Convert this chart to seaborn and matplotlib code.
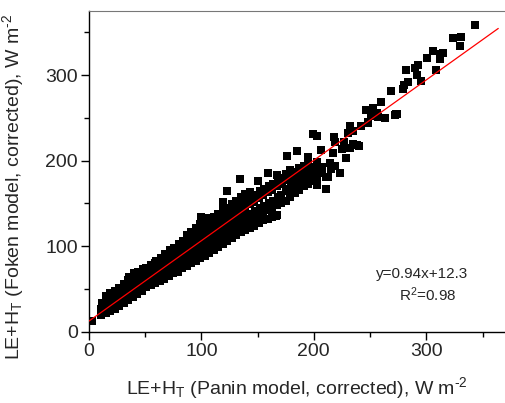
import numpy as np
import pandas as pd
import matplotlib
matplotlib.use('Agg')
import matplotlib.pyplot as plt
import seaborn as sns

# points: (Panin, Foken), W m-2
dense_low = [
    (2.5, 13),
    (11, 20), (11, 27), (12, 34),
    (15, 22), (15, 29), (16, 37), (15, 42),
    (19, 24), (19, 31), (20, 38), (19, 45),
    (23, 27), (23, 34), (24, 41), (23, 47),
    (27, 30), (27, 37), (28, 44), (27, 51),
    (31, 33), (31, 40), (32, 48), (31, 56),
    (35, 37), (35, 44), (36, 52), (35, 60), (36, 64),
    (39, 41), (39, 48), (40, 55), (39, 63), (40, 68),
    (43, 44), (43, 51), (44, 58), (43, 66), (44, 70),
    (47, 48), (47, 55), (48, 62), (47, 69), (48, 73),
    (51, 52), (51, 59), (52, 66), (51, 74),
    (55, 55), (55, 62), (56, 70), (55, 78),
    (59, 57), (59, 64), (60, 72), (59, 80), (60, 83),
]
dense_mid = [
    (63, 59), (63, 66), (64, 74), (63, 82), (64, 86),
    (67, 62), (67, 70), (68, 78), (67, 86), (68, 91),
    (71, 65), (71, 73), (72, 81), (71, 89), (72, 95),
    (75, 68), (75, 76), (76, 84), (75, 92), (76, 98),
    (79, 70), (79, 78), (80, 86), (79, 95), (80, 102),
    (83, 74), (83, 82), (84, 90), (83, 98), (84, 106),
    (87, 77), (87, 85), (88, 93), (87, 101), (88, 109), (87, 113),
    (91, 80), (91, 88), (92, 96), (91, 104), (92, 112), (91, 117),
    (95, 83), (95, 91), (96, 99), (95, 107), (96, 115), (95, 121),
    (99, 86), (99, 94), (100, 102), (99, 110), (100, 118), (99, 126),
    (103, 89), (103, 97), (104, 105), (103, 113), (104, 121), (103, 130),
    (107, 92), (107, 100), (108, 108), (107, 116), (108, 124), (107, 133),
    (111, 95), (111, 103), (112, 111), (111, 119), (112, 127), (111, 134),
    (115, 99), (115, 107), (116, 115), (115, 123), (116, 131), (115, 138),
    (119, 102), (119, 110), (120, 118), (119, 126), (120, 134), (119, 143),
]
dense_high = [
    (123, 106), (123, 114), (124, 122), (123, 130), (124, 138), (123, 145),
    (127, 110), (127, 118), (128, 126), (127, 134), (128, 142), (127, 149),
    (131, 113), (131, 121), (132, 129), (131, 138), (132, 146), (131, 153),
    (135, 116), (135, 124), (136, 132), (135, 141), (136, 150), (135, 157),
    (139, 119), (139, 127), (140, 135), (139, 145), (140, 154), (139, 161),
    (143, 121), (143, 130), (144, 138), (143, 149), (144, 157), (143, 163),
    (147, 124), (147, 133), (148, 141), (147, 152), (148, 160),
    (151, 127), (151, 136), (152, 144), (151, 156), (152, 164),
    (155, 130), (155, 139), (156, 147), (155, 160), (156, 167),
    (159, 132), (159, 142), (160, 150), (159, 163), (160, 170),
    (163, 134), (163, 145), (164, 153), (163, 166), (164, 173),
    (167, 136), (167, 148), (168, 157), (167, 170), (168, 177),
    (171, 150), (171, 160), (172, 173), (171, 180),
    (175, 153), (175, 164), (176, 177), (175, 184),
    (179, 158), (179, 167), (180, 175), (179, 183),
    (183, 162), (183, 171), (184, 179), (183, 187),
    (187, 166), (187, 175), (188, 183), (187, 191),
    (191, 170), (191, 178), (192, 186), (191, 194),
    (195, 173), (195, 181), (196, 189), (195, 197),
    (199, 176), (199, 184), (200, 192),
    (203, 171), (203, 180), (204, 188), (203, 198),
    (207, 185), (207, 193), (211, 167), (211, 181), (215, 190), (214, 197),
]
scatter_upper = [
    (100, 134), (119, 151), (123, 164), (134, 178), (150, 176), (159, 185),
    (167, 183), (179, 189), (176, 205), (185, 211), (195, 204), (199, 231),
    (203, 229), (206, 212), (166, 135), (143, 121),
]
scatter_tail = [
    (219, 194), (217, 209), (218, 227), (219, 222), (225, 214), (232, 215),
    (235, 219), (240, 217), (229, 203), (230, 232), (235, 235), (232, 241),
    (242, 241), (248, 244), (251, 252), (246, 259), (253, 261), (256, 256),
    (263, 250), (260, 269), (273, 255), (272, 253), (223, 185), (213, 181),
    (203, 171), (227, 222), (238, 218), (248, 245), (257, 251),
    (269, 281), (279, 284), (280, 288), (284, 292), (295, 293), (292, 300),
    (282, 306), (309, 306), (290, 308), (293, 312), (301, 320), (312, 319),
    (306, 328), (312, 325), (315, 326), (330, 334), (324, 343), (331, 344),
    (343, 359), (274, 255),
]

slope, intercept = 0.94, 12.3
fit_x = [0, 364]

points = dense_low + dense_mid + dense_high + scatter_upper + scatter_tail
df = pd.DataFrame(points, columns=['panin', 'foken'])
fit_y = [slope * v + intercept for v in fit_x]

sns.set_style('ticks')
plt.rcParams['font.family'] = ['Liberation Sans', 'DejaVu Sans']
plt.rcParams['mathtext.fontset'] = 'custom'
plt.rcParams['mathtext.rm'] = 'Liberation Sans'
plt.rcParams['mathtext.it'] = 'Liberation Sans'

fig = plt.figure(figsize=(5.05, 4.03), dpi=100)
ax = fig.add_axes([0.176, 0.177, 0.824, 0.796])

sns.scatterplot(data=df, x='panin', y='foken', marker='s', s=26,
                color='black', linewidth=0, ax=ax, zorder=2)
ax.plot(fit_x, fit_y, color='red', lw=0.9, zorder=3)

ax.set_xlim(0, 370)
ax.set_ylim(0, 375)
ax.set_xticks([0, 100, 200, 300])
ax.set_yticks([0, 100, 200, 300])
ax.set_xticks([50, 150, 250, 350], minor=True)
ax.set_yticks([50, 150, 250, 350], minor=True)
ax.tick_params(which='major', direction='out', length=6, width=1,
               labelsize=14, color='black', pad=2)
ax.tick_params(which='minor', direction='out', length=3.5, width=1,
               color='black')

ax.spines['right'].set_visible(False)
ax.spines['top'].set_color('#777777')
for s in ['left', 'bottom']:
    ax.spines[s].set_color('black')
    ax.spines[s].set_linewidth(1)

unit = 'W m$^{\u20102}$'
ax.set_xlabel('LE+H$_\\mathregular{T}$ (Panin model, corrected), ' + unit,
              fontsize=14)
ax.set_ylabel('LE+H$_\\mathregular{T}$ (Foken model, corrected), ' + unit,
              fontsize=14)
ax.xaxis.set_label_coords(0.5, -0.135)
ax.yaxis.set_label_coords(-0.15, 0.45)

ax.text(0.80, 0.18, 'y=0.94x+12.3', transform=ax.transAxes, fontsize=11,
        ha='center', va='center')
ax.text(0.815, 0.115, 'R$^\\mathregular{2}$=0.98', transform=ax.transAxes,
        fontsize=11, ha='center', va='center')

fig.savefig('out.png', dpi=100)
